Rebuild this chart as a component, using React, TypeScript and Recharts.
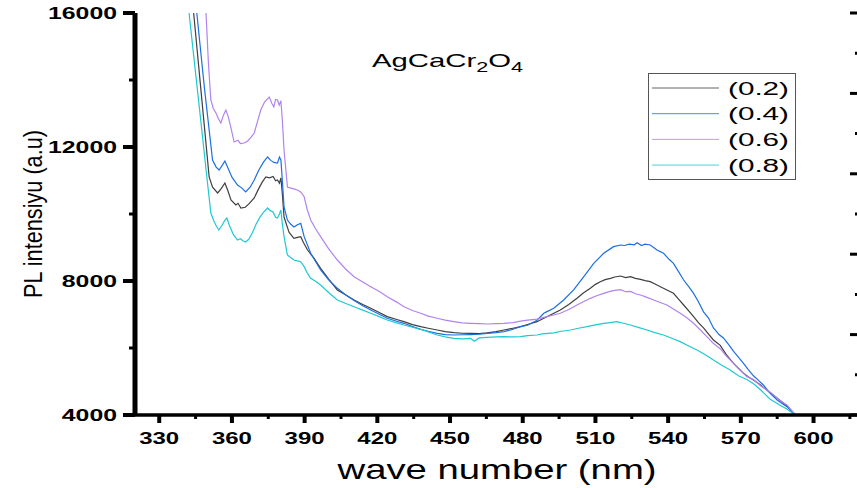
import React from 'react';
import { LineChart, Line, XAxis, YAxis } from 'recharts';

// [wavelength nm, PL intensity]
const s02: [number, number][] = [
  [341, 18300], [344.2, 16000], [347.6, 13400], [350.6, 11105], [352, 10800], [354.1, 10627], [355.5, 10750],
  [357.1, 10925], [358.3, 10700], [359.6, 10418], [361.6, 10269], [362.5, 10320], [363.7, 10179], [365.5, 10200],
  [367, 10300], [369.2, 10478], [371, 10750], [372.5, 10950], [374, 11105], [375.5, 11080], [377, 11120],
  [378, 10990], [378.8, 11015], [379.6, 10920], [380.2, 11080], [380.8, 10600], [381.5, 9910], [382.9, 9600],
  [383.6, 9450], [385.6, 9273], [387, 9300], [388.4, 9323], [389.5, 9150], [391.2, 8925], [393.9, 8677],
  [396.6, 8378], [400, 8050], [403.5, 7732], [407, 7580], [410.4, 7433], [414, 7300], [417.3, 7185],
  [421, 7050], [424.1, 6936], [428, 6850], [431, 6786], [434.5, 6700], [437.9, 6637], [441, 6590],
  [444.7, 6538], [448, 6490], [451.6, 6458], [455, 6440], [458.5, 6438], [462, 6430], [465.3, 6450],
  [469, 6490], [472.2, 6538], [476, 6590], [479.1, 6637], [482, 6700], [485.9, 6786], [488.7, 6887],
  [492, 7010], [495.5, 7135], [499, 7300], [502.4, 7483], [505, 7640], [507.9, 7781], [510, 7900],
  [512, 7980], [514, 8040], [516.2, 8080], [518, 8120], [520.3, 8149], [522.5, 8100], [524.5, 8130],
  [526.5, 8080], [528.6, 8050], [530.5, 8010], [532.6, 7980], [534.6, 7910], [536.8, 7830], [539.5, 7730],
  [542.2, 7632], [544.3, 7460], [546.4, 7284], [548.5, 7110], [550.5, 6936], [552.5, 6760], [554.6, 6600],
  [556.6, 6420], [558.7, 6239], [561.5, 6080], [564, 5800], [567, 5543], [569, 5390], [571.1, 5244],
  [573, 5140], [575.2, 5045], [578, 4900], [580.7, 4746], [584, 4560], [587, 4390], [589.5, 4240], [592.5, 4000],
];

const s04: [number, number][] = [
  [343, 17700], [345.5, 16000], [348.6, 13800], [352, 11612], [353.5, 11400], [354.7, 11313], [356, 11450],
  [357.1, 11582], [358.5, 11350], [360, 11100], [362.3, 10866], [364, 10780], [365.7, 10657], [367.5, 10800],
  [369.2, 11015], [371, 11300], [373, 11550], [374.7, 11702], [376, 11600], [377.3, 11540], [378.8, 11520],
  [379.6, 11700], [380.2, 11612], [380.8, 11000], [381.5, 10209], [382.9, 9820], [384.2, 9700], [385.6, 9612],
  [387, 9680], [388.4, 9721], [389.8, 9323], [392.5, 8826], [396.6, 8328], [400, 8030], [403.5, 7781],
  [407, 7580], [410.4, 7420], [414, 7260], [417.3, 7135], [421, 7000], [424.1, 6887], [428, 6800],
  [431, 6737], [434.5, 6640], [437.9, 6558], [441, 6500], [444.7, 6438], [448, 6400], [451.6, 6388],
  [455, 6395], [458.5, 6400], [462, 6410], [465.3, 6438], [469, 6460], [472.2, 6488], [476, 6560],
  [479.1, 6637], [482, 6680], [485.9, 6830], [488.7, 7036], [490, 7085], [492.8, 7185], [496.9, 7433],
  [501, 7732], [505.2, 8129], [509.3, 8527], [513.4, 8826], [517.5, 9025], [520.3, 9075], [522, 9060],
  [524, 9100], [526, 9080], [527.2, 9144], [529, 9060], [530.5, 9100], [532.6, 9075], [535.4, 8925],
  [538.1, 8826], [540.5, 8640], [542.2, 8527], [544.3, 8280], [546.4, 8030], [548.5, 7830], [550.5, 7632],
  [552.5, 7380], [554.6, 7080], [556.6, 6900], [558.7, 6600], [561, 6400], [562.8, 6300], [565, 6100],
  [567, 5900], [568.4, 5780], [571.1, 5543], [573, 5360], [575.2, 5170], [577.5, 5020], [579.3, 4896],
  [582.1, 4647], [585, 4450], [589, 4249], [592.5, 4000],
];

const s06: [number, number][] = [
  [348, 18000], [349.3, 16000], [350.3, 14500], [351.3, 13403], [352.3, 13150], [353.4, 13015], [354.4, 12850],
  [355.4, 12716], [356.5, 12950], [357.5, 13105], [358.5, 12900], [359.5, 12600], [360.9, 12149], [362.5, 12200],
  [363.5, 12100], [365, 12119], [366.5, 12180], [368, 12300], [369.2, 12418], [370.5, 12750], [371.9, 13105],
  [373.5, 13350], [375.4, 13493], [376.5, 13300], [377.3, 13200], [378, 13420], [378.8, 13403], [379.5, 13250],
  [380.2, 13380], [380.8, 12800], [381.5, 11910], [382.9, 10806], [384, 10780], [385.5, 10750], [387, 10716],
  [388.5, 10650], [389.8, 10517], [391, 10150], [392.5, 9821], [394.5, 9560], [396.6, 9323], [400, 8950],
  [403.5, 8627], [407, 8350], [410.4, 8129], [414, 7970], [417.3, 7830], [421, 7680], [424.1, 7532],
  [428, 7370], [431, 7233], [434.5, 7120], [437.9, 7036], [441, 6950], [444.7, 6887], [448, 6830],
  [451.6, 6786], [455, 6750], [458.5, 6737], [462, 6725], [465.3, 6717], [469, 6730], [472.2, 6737],
  [476, 6760], [479.1, 6800], [482, 6830], [485.9, 6860], [490, 6936], [495.5, 7036], [499, 7150],
  [502.4, 7284], [505, 7380], [507.9, 7483], [510.5, 7560], [513.4, 7632], [516, 7690], [518, 7720],
  [520.3, 7740], [522.5, 7680], [524.5, 7690], [526.5, 7620], [528.6, 7582], [531, 7520], [534, 7433],
  [537, 7350], [539.5, 7284], [542, 7170], [545, 7036], [547.7, 6900], [550.5, 6737], [553, 6560],
  [556, 6338], [558.5, 6150], [561.5, 5980], [564, 5760], [567, 5543], [569.5, 5370], [572.5, 5144],
  [575.2, 5060], [578, 4880], [582, 4690], [586, 4440], [589, 4299], [592.5, 4000],
];

const s08: [number, number][] = [
  [340, 17500], [342.3, 16000], [344.8, 14340], [347.5, 12550], [349.5, 11200], [351.3, 10030], [352.5, 9800],
  [353.5, 9650], [354.6, 9522], [355.8, 9650], [357, 9800], [357.9, 9880], [359, 9650], [360.5, 9400],
  [362.3, 9224], [363.5, 9260], [364.5, 9200], [365.7, 9165], [367, 9250], [368.5, 9450], [370, 9700],
  [371.5, 9900], [373, 10050], [374.7, 10180], [375.8, 10100], [377, 10060], [378, 9900], [378.8, 9880],
  [379.6, 10000], [380.2, 10120], [380.8, 9700], [381.5, 9323], [382.9, 8776], [384.2, 8700], [385.6, 8627],
  [387, 8600], [388.4, 8577], [389.8, 8428], [391, 8250], [392.5, 8080], [394.5, 7990], [396.6, 7881],
  [400, 7650], [403.5, 7433], [407, 7330], [410.4, 7233], [414, 7130], [417.3, 7036], [421, 6930],
  [424.1, 6836], [428, 6750], [431, 6687], [434.5, 6620], [437.9, 6558], [441, 6480], [444.7, 6388],
  [448, 6330], [451.6, 6289], [455, 6270], [458.5, 6289], [460, 6200], [462, 6300], [465.3, 6318],
  [469, 6330], [472.2, 6338], [476, 6330], [479.1, 6338], [482, 6370], [485.9, 6388], [488, 6420],
  [492.8, 6450], [496, 6500], [499.7, 6538], [503, 6590], [506.5, 6637], [510, 6690], [513.4, 6737],
  [516, 6760], [518.9, 6786], [521.5, 6740], [524.4, 6687], [528, 6610], [531.3, 6538], [534.5, 6460],
  [538.1, 6388], [541.5, 6290], [545, 6189], [548.5, 6060], [551.9, 5940], [555.5, 5790], [558.7, 5642],
  [562, 5490], [565.6, 5343], [569, 5170], [572.5, 5060], [575.5, 4920], [578, 4760], [582, 4480],
  [586, 4300], [589, 4180], [592.4, 4000],
];

const seriesNames = ['(0.2)', '(0.4)', '(0.6)', '(0.8)'];
const seriesColors = ['#3f3f3f', '#1c6fe3', '#b084ee', '#1fc9d2'];
const seriesData = [s02, s04, s06, s08];

const xTicks = [330, 345, 360, 375, 390, 405, 420, 435, 450, 465, 480, 495, 510, 525, 540, 555, 570, 585, 600, 615];
const yTicks = [4000, 6000, 8000, 10000, 12000, 14000, 16000];
const topTicks = [1, 2, 3, 4, 5, 6, 7, 8, 9];
const rightTicks = [0, 0.5, 1, 1.5, 2, 2.5, 3, 3.5, 4, 4.5, 5];

const FONT = '"Liberation Sans", Arial, sans-serif';

const LeftTick = (props: any) => {
  const { x, y, payload } = props;
  const v = payload.value;
  const major = v % 4000 === 0;
  const s = String(v);
  return (
    <g>
      <line x1={x - (major ? 12 : 6)} x2={x} y1={y} y2={y} stroke="#000" strokeWidth={major ? 4 : 3} />
      {major && (
        <text x={x - 18} y={y + 6} textAnchor="end" fontFamily={FONT} fontWeight="bold" fontSize={17}
          fill="#000" textLength={s.length * 13.8} lengthAdjust="spacingAndGlyphs">{s}</text>
      )}
    </g>
  );
};

const BottomTick = (props: any) => {
  const { x, y, payload } = props;
  const v = payload.value;
  const major = v % 30 === 0;
  return (
    <g>
      <line x1={x} x2={x} y1={y} y2={y + (major ? 8 : 4)} stroke="#000" strokeWidth={major ? 4 : 3} />
      {major && (
        <text x={x} y={y + 29} textAnchor="middle" fontFamily={FONT} fontWeight="bold" fontSize={17}
          fill="#000" textLength={40} lengthAdjust="spacingAndGlyphs">{v}</text>
      )}
    </g>
  );
};

const TopTick = (props: any) => {
  const { x, y, payload } = props;
  const major = payload.value % 2 === 0;
  return <line x1={x} x2={x} y1={y} y2={y + (major ? 7 : 4)} stroke="#000" strokeWidth={major ? 5 : 4} />;
};

const RightTick = (props: any) => {
  const { x, y, payload } = props;
  const major = Number.isInteger(payload.value);
  return <line x1={x} x2={x - (major ? 12 : 7)} y1={y} y2={y} stroke="#000" strokeWidth={3} />;
};

export default function App() {
  return (
    <div style={{ position: 'absolute', left: 0, top: 0, width: 857, height: 488, overflow: 'hidden', background: '#fff' }}>
      <LineChart width={880} height={488} margin={{ top: 13, right: 17, bottom: 0, left: 0 }}>
        <XAxis dataKey="x" type="number" domain={[320, 620]} ticks={xTicks} interval={0} allowDataOverflow
          axisLine={{ stroke: '#000', strokeWidth: 3.5 }} tickLine={false} tickSize={0} tickMargin={0}
          height={73} tick={<BottomTick />} />
        <XAxis xAxisId="top" orientation="top" type="number" domain={[0, 10]} ticks={topTicks} interval={0}
          allowDataOverflow axisLine={{ stroke: '#000', strokeWidth: 4 }} tickLine={false} tickSize={0}
          tickMargin={0} height={0} tick={<TopTick />} />
        <YAxis type="number" domain={[4000, 16000]} ticks={yTicks} interval={0} allowDataOverflow
          axisLine={{ stroke: '#000', strokeWidth: 5 }} tickLine={false} tickSize={0} tickMargin={0}
          width={135} tick={<LeftTick />} />
        <YAxis yAxisId="right" orientation="right" type="number" domain={[0, 5]} ticks={rightTicks} interval={0}
          allowDataOverflow axisLine={{ stroke: '#000', strokeWidth: 4 }} tickLine={false} tickSize={0}
          tickMargin={0} width={1} tick={<RightTick />} />
        {seriesData.map((s, i) => (
          <Line key={seriesNames[i]} name={seriesNames[i]} data={s.map(([x, y]) => ({ x, y }))} dataKey="y"
            type="linear" stroke={seriesColors[i]} strokeWidth={1.2} dot={false} activeDot={false}
            isAnimationActive={false} />
        ))}
      </LineChart>
      <svg width={857} height={488} style={{ position: 'absolute', left: 0, top: 0, pointerEvents: 'none' }}>
        <text transform="translate(42, 214) rotate(-90)" textAnchor="middle" fontFamily={FONT} fontSize={25}
          fill="#000" textLength={168} lengthAdjust="spacingAndGlyphs">PL intensiyu (a.u)</text>
        <text x={497} y={479} textAnchor="middle" fontFamily={FONT} fontSize={28} fill="#000"
          textLength={319} lengthAdjust="spacingAndGlyphs">wave number (nm)</text>
        <text x={372} y={67} fontFamily={FONT} fontSize={19} fill="#000" textLength={151} lengthAdjust="spacingAndGlyphs">
          AgCaCr<tspan fontSize={14} dy={5}>2</tspan><tspan dy={-5}>O</tspan><tspan fontSize={14} dy={5}>4</tspan>
        </text>
        <rect x={648.5} y={73.5} width={147} height={106} fill="#fff" stroke="#555" strokeWidth={1} />
        {seriesNames.map((n, i) => (
          <g key={n}>
            <line x1={652} x2={719} y1={88 + i * 25.7} y2={88 + i * 25.7} stroke={seriesColors[i]} strokeWidth={1} opacity={0.8} />
            <text x={728} y={88 + i * 25.7 + 6.5} fontFamily={FONT} fontSize={18} fill="#000"
              textLength={61} lengthAdjust="spacingAndGlyphs">{n}</text>
          </g>
        ))}
      </svg>
    </div>
  );
}
